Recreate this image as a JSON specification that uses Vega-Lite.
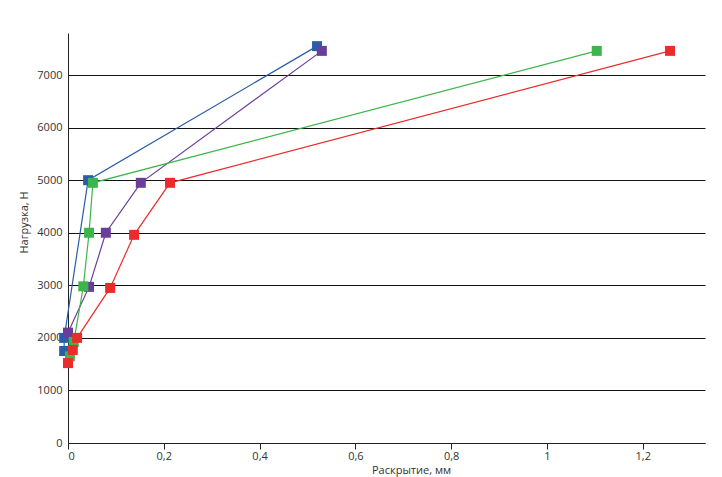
{
  "$schema": "https://vega.github.io/schema/vega-lite/v6.json",
  "width": 637,
  "height": 410,
  "autosize": "none",
  "padding": {"left": 68, "top": 33, "right": 17, "bottom": 34},
  "background": "white",
  "config": {
    "view": {"stroke": null},
    "font": "Open Sans",
    "axis": {"labelFont": "Open Sans", "titleFont": "Open Sans", "labelColor": "#333333", "titleColor": "#333333", "labelFontSize": 11, "titleFontSize": 11, "titleFontWeight": "normal"}
  },
  "data": {
    "values": [
      {"series": "A", "x": -0.008, "y": 1750},
      {"series": "A", "x": -0.008, "y": 2000},
      {"series": "A", "x": 0.042, "y": 5000},
      {"series": "A", "x": 0.52, "y": 7550},
      {"series": "B", "x": 0.0, "y": 2100},
      {"series": "B", "x": 0.044, "y": 2970},
      {"series": "B", "x": 0.079, "y": 4000},
      {"series": "B", "x": 0.152, "y": 4950},
      {"series": "B", "x": 0.53, "y": 7460},
      {"series": "C", "x": 0.004, "y": 1650},
      {"series": "C", "x": 0.012, "y": 1920},
      {"series": "C", "x": 0.032, "y": 2980},
      {"series": "C", "x": 0.044, "y": 4000},
      {"series": "C", "x": 0.052, "y": 4950},
      {"series": "C", "x": 1.104, "y": 7460},
      {"series": "D", "x": 0.0, "y": 1520},
      {"series": "D", "x": 0.01, "y": 1770},
      {"series": "D", "x": 0.019, "y": 2000},
      {"series": "D", "x": 0.088, "y": 2950},
      {"series": "D", "x": 0.138, "y": 3960},
      {"series": "D", "x": 0.213, "y": 4950},
      {"series": "D", "x": 1.257, "y": 7460}
    ]
  },
  "encoding": {
    "x": {
      "field": "x", "type": "quantitative",
      "scale": {"domain": [0, 1.33], "nice": false, "zero": false},
      "axis": {
        "title": "Раскрытие, мм", "values": [0, 0.2, 0.4, 0.6, 0.8, 1, 1.2],
        "format": ",.1~f", "labelExpr": "replace(datum.label, '.', ',')",
        "grid": false, "domainColor": "#222222", "tickColor": "#222222", "tickSize": 6,
        "labelPadding": 1, "titlePadding": 3, "titleX": 343
      }
    },
    "y": {
      "field": "y", "type": "quantitative",
      "scale": {"domain": [0, 7800], "nice": false},
      "axis": {
        "title": "Нагрузка, Н", "values": [0, 1000, 2000, 3000, 4000, 5000, 6000, 7000],
        "format": "d", "grid": true, "gridColor": "#111111", "gridOpacity": 1, "gridWidth": 1,
        "ticks": false, "domainColor": "#222222", "labelPadding": 6, "titlePadding": 7, "titleY": 189
      }
    },
    "color": {
      "field": "series", "type": "nominal", "legend": null,
      "scale": {"domain": ["A", "B", "C", "D"], "range": ["#2a5caa", "#6a3d9a", "#3cb54a", "#ee2b2b"]}
    }
  },
  "layer": [
    {"mark": {"type": "line", "strokeWidth": 1.2, "clip": false}, "encoding": {"order": {"field": "y"}}},
    {"mark": {"type": "point", "shape": "square", "filled": true, "size": 100, "opacity": 1, "clip": false}}
  ]
}
